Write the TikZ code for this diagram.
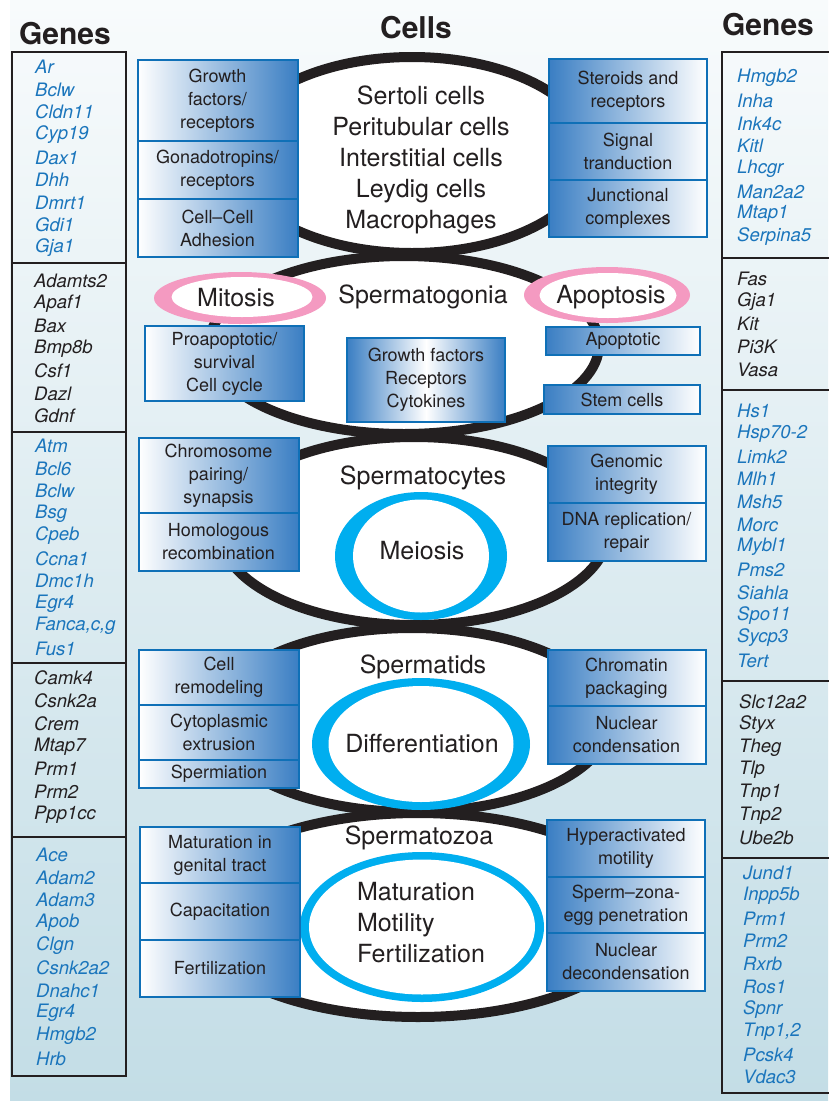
\documentclass[tikz,border=0pt]{standalone}
\usepackage{fontspec}
\setmainfont{TeX Gyre Heros}
\definecolor{inkblack}{HTML}{231F20}
\definecolor{boxblue}{HTML}{3A7EC3}
\definecolor{boxline}{HTML}{0F70B7}
\definecolor{geneblue}{HTML}{1A75BC}
\definecolor{ringpink}{HTML}{F49AC1}
\definecolor{ringcyan}{HTML}{00AEEF}
\definecolor{bgtop}{HTML}{F8FBFC}
\definecolor{bgbottom}{HTML}{C3DDE6}
\tikzset{
  title/.style={font=\fontsize{30}{32}\selectfont\bfseries, text=inkblack, inner sep=0pt},
  bigtext/.style={font=\fontsize{25}{31}\selectfont, text=inkblack, align=center, inner sep=0pt},
  genebox/.style={draw=inkblack, line width=2.2pt},
  cellring/.style={draw=inkblack, line width=10pt},
  geneb/.style={anchor=west, inner sep=0pt, text=geneblue, font=\fontsize{18.5}{20}\selectfont\itshape},
  genek/.style={geneb, text=inkblack},
  lbox/.style={draw=boxline, line width=2pt, left color=white, right color=boxblue,
    text=inkblack, align=center, inner sep=0pt, minimum width=160pt,
    font=\fontsize{18}{23}\selectfont},
  rbox/.style={lbox, left color=boxblue, right color=white, minimum width=158pt},
  cbox/.style={lbox, left color=boxblue, right color=boxblue, middle color=white, minimum width=158pt}
}
\begin{document}
\begin{tikzpicture}[x=1pt,y=-1pt]
    \useasboundingbox (0,0) rectangle (828,1101);
    \shade[top color=bgtop,bottom color=bgbottom] (10,0) rectangle (828,1101);
    % gene columns
    \foreach \a/\b in {52/263,263/432,432/663,663/837,837/1076}
        \draw[genebox] (12,\a) rectangle (126,\b);
    \foreach \a/\b in {52/258,258/390,390/681,681/858,858/1093}
        \draw[genebox] (722,\a) rectangle (836,\b);
    \node[title] (genesL) at (65,34) {Genes};
    \node[title] (cells) at (416,28) {Cells};
    \node[title] (genesR) at (768,25) {Genes};
    \foreach \g [count=\i] in {Ar,Bclw,Cldn11,Cyp19,Dax1,Dhh,Dmrt1,Gdi1,Gja1}
        \node[geneb] (la\i) at (35,{67+22.6*(\i-1)}) {\g};
    \foreach \g [count=\i] in {Adamts2,Apaf1,Bax,Bmp8b,Csf1,Dazl,Gdnf}
        \node[genek] (lb\i) at (34,{281+22.5*(\i-1)}) {\g};
    \foreach \g [count=\i] in {Atm,Bcl6,Bclw,Bsg,Cpeb,Ccna1,Dmc1h,Egr4,{Fanca,c,g},Fus1}
        \node[geneb] (lc\i) at (35,{446+22.5*(\i-1)}) {\g};
    \foreach \g [count=\i] in {Camk4,Csnk2a,Crem,Mtap7,Prm1,Prm2,Ppp1cc}
        \node[genek] (ld\i) at (34,{678+22.8*(\i-1)}) {\g};
    \foreach \g [count=\i] in {Ace,Adam2,Adam3,Apob,Clgn,Csnk2a2,Dnahc1,Egr4,Hmgb2,Hrb}
        \node[geneb] (le\i) at (36,{855+22.6*(\i-1)}) {\g};
    \foreach \g [count=\i] in {Hmgb2,Inha,Ink4c,Kitl,Lhcgr,Man2a2,Mtap1,Serpina5}
        \node[geneb] (ra\i) at (737,{78+22.7*(\i-1)}) {\g};
    \foreach \g [count=\i] in {Fas,Gja1,Kit,Pi3K,Vasa}
        \node[genek] (rb\i) at (737,{279+22.6*(\i-1)}) {\g};
    \foreach \g [count=\i] in {Hs1,Hsp70-2,Limk2,Mlh1,Msh5,Morc,Mybl1,Pms2,Siahla,Spo11,Sycp3,Tert}
        \node[geneb] (rc\i) at (737,{411+22.7*(\i-1)}) {\g};
    \foreach \g [count=\i] in {Slc12a2,Styx,Theg,Tlp,Tnp1,Tnp2,Ube2b}
        \node[genek] (rd\i) at (739,{702+22.7*(\i-1)}) {\g};
    \foreach \g [count=\i] in {Jund1,Inpp5b,Prm1,Prm2,Rxrb,Ros1,Spnr,{Tnp1,2},Pcsk4,Vdac3}
        \node[geneb] (re\i) at (743,{873+22.7*(\i-1)}) {\g};
    % cell stages
    \foreach \cx/\cy/\rx/\ry in {412/155/180/98,404/345/195/89,414/531/194/94,412/720/198/92,418/915/228/102}
        \fill[white] (\cx,\cy) ellipse[x radius=\rx pt,y radius=\ry pt];
    \foreach \cx/\cy/\rx/\ry in {412/155/180/98,404/345/195/89,414/531/194/94,412/720/198/92,418/915/228/102}
        \draw[cellring] (\cx,\cy) ellipse[x radius=\rx pt,y radius=\ry pt];
    \foreach \cx/\cy/\ox/\oy/\ix/\iy in {421/556/86/64/68/56.5,421/744/109/66/92.5/58,422/927/122/75/113/67.5}
    {
        \fill[ringcyan] (\cx,\cy) ellipse[x radius=\ox pt,y radius=\oy pt];
        \fill[white] (\cx,\cy) ellipse[x radius=\ix pt,y radius=\iy pt];
    }
    \fill[ringpink] (240,298) ellipse[x radius=86pt,y radius=26pt];
    \fill[white] (242,297) ellipse[x radius=70.5pt,y radius=20pt];
    \fill[ringpink] (607,295) ellipse[x radius=83pt,y radius=28pt];
    \fill[white] (608,295.5) ellipse[x radius=68.5pt,y radius=22.5pt];
    \node[bigtext] (sertoli) at (421,160) {Sertoli cells\\Peritubular cells\\Interstitial cells\\Leydig cells\\Macrophages};
    \node[bigtext] (gonia) at (423,297) {Spermatogonia};
    \node[bigtext] (mitosis) at (236,298) {Mitosis};
    \node[bigtext] (apoptosis) at (611,297) {Apoptosis};
    \node[bigtext] (cytes) at (423,478) {Spermatocytes};
    \node[bigtext] (meiosis) at (422,551) {Meiosis};
    \node[bigtext] (tids) at (423,667) {Spermatids};
    \node[bigtext] (differ) at (422,744) {Differentiation};
    \node[bigtext] (zoa) at (419,838) {Spermatozoa};
    \node[bigtext, align=left] (maturity) at (421,923) {Maturation\\Motility\\Fertilization};
    % functions
    \node[lbox, minimum height=81pt] (growth) at (217.5,100.5) {Growth\\factors/\\receptors};
    \node[lbox, minimum height=58pt] (gonado) at (217.5,170) {Gonadotropins/\\receptors};
    \node[lbox, minimum height=58pt] (adhesion) at (217.5,228) {Cell--Cell\\Adhesion};
    \node[rbox, minimum height=64pt] (steroid) at (628,91) {Steroids and\\receptors};
    \node[rbox, minimum height=57pt] (signal) at (628,151.5) {Signal\\tranduction};
    \node[rbox, minimum height=57pt] (junction) at (628,208.5) {Junctional\\complexes};
    \node[lbox, minimum width=159pt, minimum height=75pt] (survival) at (224.5,363.5) {Proapoptotic/\\survival\\Cell cycle};
    \node[cbox, minimum height=84pt] (cytokine) at (426,380) {Growth factors\\Receptors\\Cytokines};
    \node[rbox, minimum width=154pt, minimum height=28pt] (apoptotic) at (623,341) {Apoptotic};
    \node[rbox, minimum width=156pt, minimum height=29pt] (stem) at (622,399.5) {Stem cells};
    \node[lbox, minimum height=75pt] (pairing) at (218.5,475.5) {Chromosome\\pairing/\\synapsis};
    \node[lbox, minimum height=58pt] (recomb) at (218.5,542) {Homologous\\recombination};
    \node[rbox, minimum height=57pt] (genomic) at (626.5,474.5) {Genomic\\integrity};
    \node[rbox, minimum height=58pt] (dna) at (626.5,532) {DNA replication/\\repair};
    \node[lbox, minimum height=55pt] (remodel) at (219,677.5) {Cell\\remodeling};
    \node[lbox, minimum height=55pt] (extrusion) at (219,732.5) {Cytoplasmic\\extrusion};
    \node[lbox, minimum height=28pt] (spermiation) at (219,774) {Spermiation};
    \node[rbox, minimum height=56pt] (chromatin) at (626.5,678) {Chromatin\\packaging};
    \node[rbox, minimum height=58pt] (condense) at (626.5,735) {Nuclear\\condensation};
    \node[lbox, minimum height=56pt] (genital) at (220,855) {Maturation in\\genital tract};
    \node[lbox, minimum height=57pt] (capacit) at (220,911.5) {Capacitation};
    \node[lbox, minimum height=57pt] (fertil) at (220,968.5) {Fertilization};
    \node[rbox, minimum height=57pt] (hyper) at (626,848.5) {Hyperactivated\\motility};
    \node[rbox, minimum height=56pt] (zona) at (626,905) {Sperm--zona-\\egg penetration};
    \node[rbox, minimum height=58pt] (decond) at (626,962) {Nuclear\\decondensation};
\end{tikzpicture}
\end{document}
